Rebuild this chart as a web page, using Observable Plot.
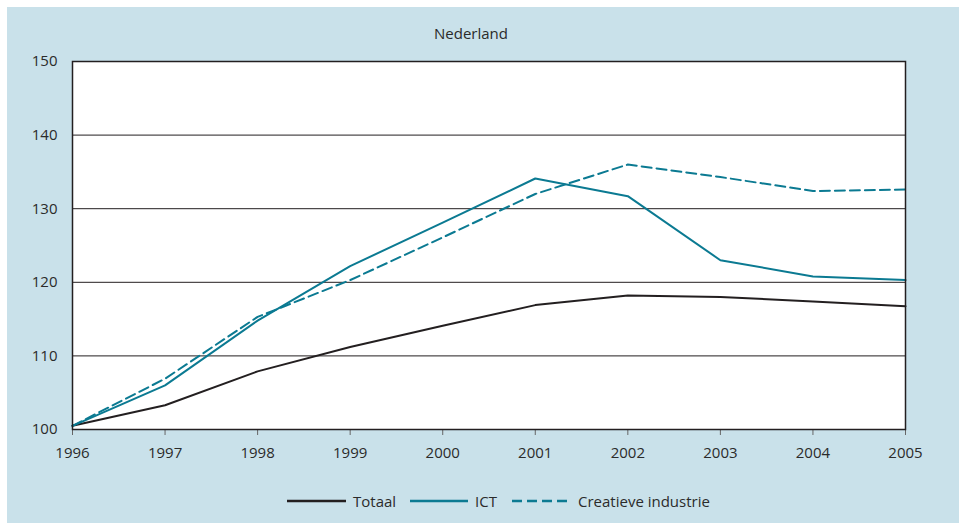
<!DOCTYPE html>
<html>
<head>
<meta charset="utf-8">
<script src="https://cdn.jsdelivr.net/npm/d3@7"></script>
<script src="https://cdn.jsdelivr.net/npm/@observablehq/plot@0.6"></script>
<style>
  html, body { margin: 0; padding: 0; background: #ffffff; width: 959px; height: 523px; overflow: hidden; }
  body { font-family: "Open Sans", "Noto Sans", sans-serif; color: #2b2b2b; position: relative; }
  #panel { position: absolute; left: 7px; top: 7px; width: 952px; height: 516px; background: #c9e1ea; }
  #title { position: absolute; left: 434px; top: 23px; font-size: 15px; color: #2b2b2b; white-space: nowrap; }
  #chart { position: absolute; left: 0; top: 40px; }
  #legend { position: absolute; top: 0; left: 0; }
  .item { position: absolute; display: flex; align-items: center; font-size: 15px; color: #2b2b2b; white-space: nowrap; height: 20px; }
</style>
</head>
<body>
<div id="panel"></div>
<div id="title">Nederland</div>
<div id="chart"></div>
<div id="legend"></div>
<script>
const years = [1996, 1997, 1998, 1999, 2000, 2001, 2002, 2003, 2004, 2005];
const totaal = [100.5, 103.3, 107.9, 111.2, 114.1, 116.9, 118.2, 118.0, 117.4, 116.75];
const ict = [100.5, 106.0, 114.8, 122.2, 128.1, 134.1, 131.7, 123.0, 120.8, 120.3];
const creatief = [100.5, 106.9, 115.3, 120.3, 126.1, 132.0, 136.0, 134.3, 132.4, 132.6];
const seriesNames = ["Totaal", "ICT", "Creatieve industrie"];
const yTicks = [100, 110, 120, 130, 140, 150];
const gridTicks = [110, 120, 130, 140];

const BLACK = "#231f20";
const TEAL = "#0b7a92";

const rows = (vals) => years.map((y, i) => ({year: y, value: vals[i]}));

const plot = Plot.plot({
  width: 959,
  height: 430,
  marginLeft: 72,
  marginRight: 54,
  marginTop: 21,
  marginBottom: 41,
  style: { background: "transparent", fontFamily: "'Open Sans', 'Noto Sans', sans-serif", fontSize: "15px", color: "#2b2b2b" },
  x: { domain: [1996, 2005], ticks: years, tickFormat: d => String(d), label: null },
  y: { domain: [100, 150], ticks: yTicks, label: null },
  marks: [
    Plot.frame({ fill: "white", stroke: "none" }),
    Plot.ruleY(gridTicks, { stroke: BLACK, strokeWidth: 1 }),
    Plot.axisX({ ticks: years, tickFormat: d => String(d), tickSize: 6, tickPadding: 12, stroke: "#666", label: null, fontSize: 15 }),
    Plot.axisY({ ticks: yTicks, tickSize: 0, tickPadding: 15, label: null, fontSize: 15 }),
    Plot.line(rows(totaal), { x: "year", y: "value", stroke: BLACK, strokeWidth: 2 }),
    Plot.line(rows(ict), { x: "year", y: "value", stroke: TEAL, strokeWidth: 2 }),
    Plot.line(rows(creatief), { x: "year", y: "value", stroke: TEAL, strokeWidth: 2, strokeDasharray: "10,5" }),
    Plot.frame({ stroke: BLACK, strokeWidth: 1.5 })
  ]
});
document.getElementById("chart").appendChild(plot);

// Legend
const legend = d3.select("#legend");
const styles = [
  { color: BLACK, dash: null, x: 287, w: 59 },
  { color: TEAL, dash: null, x: 410, w: 58 },
  { color: TEAL, dash: "10,5", x: 512, w: 56 }
];
seriesNames.forEach((name, i) => {
  const s = styles[i];
  const item = legend.append("div").attr("class", "item")
    .style("left", s.x + "px").style("top", "491px");
  const sv = item.append("svg").attr("width", s.w).attr("height", 6).style("margin-right", (i === 2 ? 10 : 7) + "px");
  const ln = sv.append("line").attr("x1", 0).attr("x2", s.w).attr("y1", 3).attr("y2", 3)
    .attr("stroke", s.color).attr("stroke-width", 2.4);
  if (s.dash) ln.attr("stroke-dasharray", s.dash);
  item.append("span").text(name);
});
</script>
</body>
</html>
